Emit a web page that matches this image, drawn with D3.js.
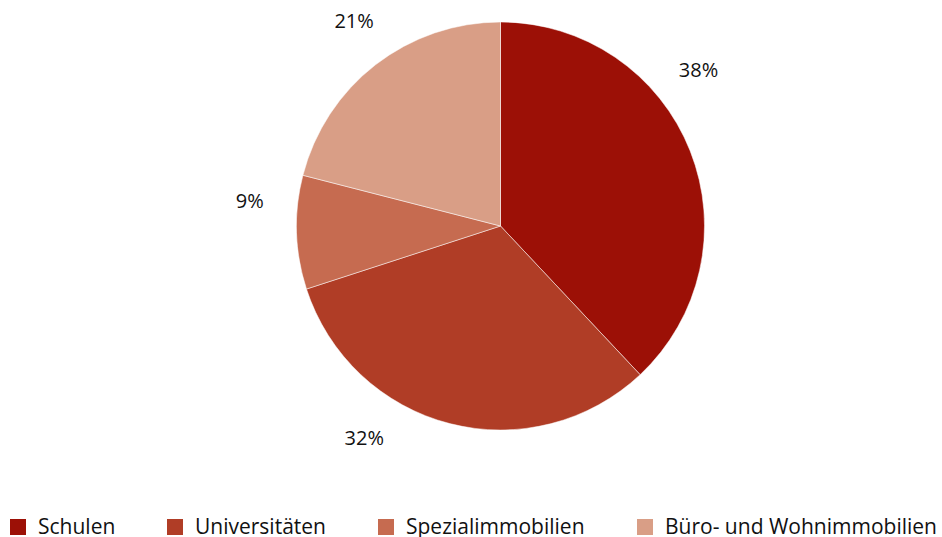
<!DOCTYPE html>
<html>
<head>
<meta charset="utf-8">
<script src="https://cdn.jsdelivr.net/npm/d3@7"></script>
<style>
  body { margin: 0; background: #fff; }
  text { font-family: "Open Sans", sans-serif; fill: #111; }
</style>
</head>
<body>
<svg id="chart"></svg>
<script>
// DATA ////////////////////////////////////////////////////////////////
var categories = ["Schulen", "Universitäten", "Spezialimmobilien", "Büro- und Wohnimmobilien"];
var shares = [38, 32, 9, 21];
var colours = ["#9c1006", "#b03d26", "#c66b50", "#d99e86"];

// LAYOUT //////////////////////////////////////////////////////////////
const WIDTH = 942, HEIGHT = 537;
const CX = 500.5, CY = 226, RADIUS = 204;
const LABEL_RADIUS = 252;
// excel "best fit" nudges the labels away from the mid angle (radians)
var labelNudge = [-0.29, 0.32, 0.13, 0.04];
var legendX = [10, 167, 378, 637];
const LEGEND_Y = 519, SWATCH = 16, FONT = 20, LEGEND_FONT = 21;

var svg = d3.select("#chart")
    .attr("width", WIDTH)
    .attr("height", HEIGHT);

var g = svg.append("g").attr("transform", "translate(" + CX + "," + CY + ")");

var pie = d3.pie().sort(null).value(function (d) { return d; });
var arc = d3.arc().innerRadius(0).outerRadius(RADIUS);

var arcs = pie(shares);

g.selectAll("path")
    .data(arcs)
    .enter().append("path")
    .attr("d", arc)
    .attr("fill", function (d, i) { return colours[i]; })
    .attr("stroke", "#fff")
    .attr("stroke-width", 0.5);

// percentage labels
g.selectAll("text.pct")
    .data(arcs)
    .enter().append("text")
    .attr("class", "pct")
    .attr("x", function (d, i) {
        var a = (d.startAngle + d.endAngle) / 2 + labelNudge[i];
        return Math.sin(a) * LABEL_RADIUS;
    })
    .attr("y", function (d, i) {
        var a = (d.startAngle + d.endAngle) / 2 + labelNudge[i];
        return -Math.cos(a) * LABEL_RADIUS;
    })
    .attr("text-anchor", "middle")
    .attr("dy", "0.35em")
    .style("font-size", FONT + "px")
    .text(function (d) { return d.data + "%"; });

// legend
var legend = svg.append("g")
    .selectAll("g")
    .data(categories)
    .enter().append("g")
    .attr("transform", function (d, i) { return "translate(" + legendX[i] + "," + LEGEND_Y + ")"; });

legend.append("rect")
    .attr("width", SWATCH)
    .attr("height", SWATCH)
    .attr("fill", function (d, i) { return colours[i]; });

legend.append("text")
    .attr("x", SWATCH + 12)
    .attr("y", 15)
    .style("font-size", LEGEND_FONT + "px")
    .text(function (d) { return d; });
</script>
</body>
</html>
